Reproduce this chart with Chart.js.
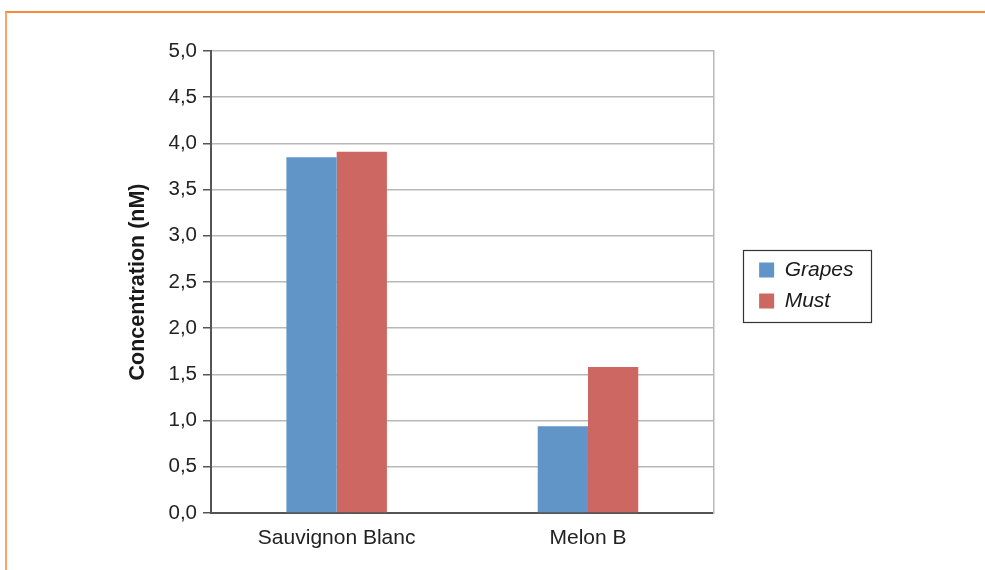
<!DOCTYPE html>
<html>
<head>
<meta charset="utf-8">
<script src="https://cdn.jsdelivr.net/npm/chart.js@4/dist/chart.umd.min.js"></script>
<style>
  html, body { margin: 0; padding: 0; background: #ffffff; }
  body { width: 985px; height: 570px; position: relative; overflow: hidden; }
  #c { position: absolute; left: 0; top: 0; }
  #frame { position: absolute; left: 5px; top: 11px; width: 1100px; height: 700px;
           border-top: 2px solid #f68a3d; border-left: 2px solid #f9a66c; pointer-events: none; }
</style>
</head>
<body>
<canvas id="c" width="985" height="570"></canvas>
<div id="frame"></div>
<script>
const categories = ['Sauvignon Blanc', 'Melon B'];
const seriesNames = ['Grapes', 'Must'];
const grapesValues = [3.85, 0.94];
const mustValues = [3.91, 1.58];
const yTickLabels = ['0,0', '0,5', '1,0', '1,5', '2,0', '2,5', '3,0', '3,5', '4,0', '4,5', '5,0'];
const yAxisTitle = 'Concentration (nM)';

const FONT = "'Liberation Sans', Arial, sans-serif";

// shift the legend block upward so it sits where the reference places it
const legendShift = {
  id: 'legendShift',
  afterLayout(chart) {
    const lg = chart.legend;
    if (!lg) return;
    lg.top -= 25;
    lg.bottom -= 25;
  }
};

const legendBorder = {
  id: 'legendBorder',
  afterDraw(chart) {
    const lg = chart.legend;
    if (!lg || !lg.legendHitBoxes || !lg.legendHitBoxes.length) return;
    const hb = lg.legendHitBoxes;
    const ctx = chart.ctx;
    const x0 = hb[0].left - 16;
    const y0 = hb[0].top - 10;
    ctx.save();
    ctx.strokeStyle = '#333333';
    ctx.lineWidth = 1.2;
    ctx.strokeRect(Math.round(x0) + 0.5, Math.round(y0) + 0.5, 128, 72);
    ctx.restore();
  }
};

new Chart(document.getElementById('c'), {
  type: 'bar',
  data: {
    labels: categories,
    datasets: [
      { label: seriesNames[0], data: grapesValues, backgroundColor: '#6195c8', borderWidth: 0 },
      { label: seriesNames[1], data: mustValues, backgroundColor: '#cc6761', borderWidth: 0 }
    ]
  },
  options: {
    responsive: false,
    devicePixelRatio: 1,
    animation: false,
    categoryPercentage: 0.4,
    barPercentage: 1.0,
    layout: { padding: { left: 121, right: 121.5, top: 51, bottom: 0 } },
    plugins: {
      tooltip: { enabled: false },
      legend: {
        position: 'right',
        labels: {
          boxWidth: 15,
          boxHeight: 15,
          padding: 10,
          color: '#1a1a1a',
          font: { family: FONT, size: 21, style: 'italic' }
        }
      }
    },
    scales: {
      x: {
        grid: { display: false },
        border: { display: true, color: '#555555', width: 2 },
        ticks: { color: '#222222', padding: 5, font: { family: FONT, size: 21 } },
        afterFit(scale) { scale.height = 57; }
      },
      y: {
        min: 0,
        max: 5,
        grid: { color: '#b8b8b8', lineWidth: 1.5, tickLength: 8, tickColor: '#555555', tickWidth: 1.5 },
        border: { display: true, color: '#555555', width: 2 },
        ticks: {
          stepSize: 0.5,
          padding: 6,
          color: '#222222',
          font: { family: FONT, size: 20.5 },
          callback: (v, i) => yTickLabels[i]
        },
        title: {
          display: true,
          text: yAxisTitle,
          color: '#1a1a1a',
          font: { family: FONT, size: 21.5, weight: 'bold' }
        },
        afterFit(scale) { scale.width = 90; }
      },
      y2: {
        position: 'right',
        min: 0,
        max: 5,
        grid: { display: false },
        ticks: { display: false },
        border: { display: true, color: '#b8b8b8', width: 1.5 },
        afterFit(scale) { scale.width = 35.5; }
      }
    }
  },
  plugins: [legendShift, legendBorder]
});
</script>
</body>
</html>
